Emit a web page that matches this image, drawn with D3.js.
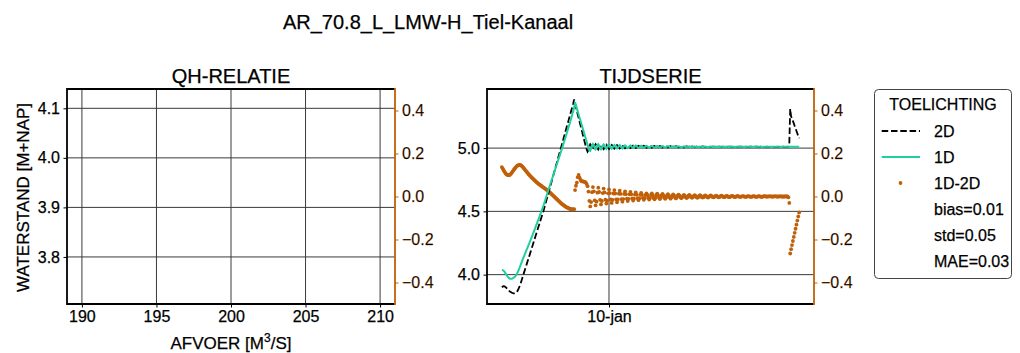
<!DOCTYPE html>
<html><head><meta charset="utf-8">
<script src="https://cdn.jsdelivr.net/npm/d3@7"></script>
<style>
body{margin:0;background:#fff;}
svg{display:block;}
text{font-family:"Liberation Sans",Arial,sans-serif;fill:#000;stroke:#000;stroke-width:0.25px;}
</style></head><body>
<svg id="c" width="1020" height="353"></svg>
<script>
// ---------------- DATA ----------------
const chartTitle = "AR_70.8_L_LMW-H_Tiel-Kanaal";
const qhTitle = "QH-RELATIE";
const tsTitle = "TIJDSERIE";
const qhXTicks = [190, 195, 200, 205, 210];
const qhYTicks = [3.8, 3.9, 4.0, 4.1];
const diffTicks = [-0.4, -0.2, 0.0, 0.2, 0.4];
const tsYTicks = [4.0, 4.5, 5.0];
const tsXTicks = ["2024-01-10"];
const tsStart = "2024-01-05 00:00";   // hourly values
const legendTitle = "TOELICHTING";
const legendNames = ["2D", "1D", "1D-2D"];
const legendStats = ["bias=0.01", "std=0.05", "MAE=0.03"];

const series2D = [
 3.900,3.906,3.909,3.908,3.903,3.896,3.888,3.880,3.873,3.867,3.862,3.858,3.855,3.853,3.852,3.853,3.858,3.866,3.878,3.893,3.910,3.930,3.952,3.975,
 3.998,4.020,4.042,4.064,4.087,4.109,4.132,4.154,4.176,4.199,4.221,4.244,4.266,4.288,4.311,4.333,4.356,4.378,4.400,4.423,4.445,4.468,4.490,4.513,
 4.538,4.564,4.589,4.615,4.640,4.666,4.691,4.717,4.742,4.768,4.793,4.819,4.844,4.870,4.895,4.921,4.946,4.972,4.997,5.023,5.048,5.074,5.099,5.125,
 5.150,5.176,5.201,5.227,5.252,5.278,5.303,5.329,5.354,5.385,5.350,5.322,5.294,5.266,5.238,5.210,5.182,5.154,5.126,5.098,5.070,5.042,5.014,4.990,
 4.972,4.985,5.015,5.030,5.021,4.999,4.987,
 5.000,5.020,5.031,5.020,5.000,4.989,
 5.001,5.019,5.029,5.019,5.001,4.991,
 5.002,5.018,5.027,5.018,5.002,4.993,
 5.003,5.017,5.025,5.017,5.003,4.995,
 5.003,5.016,5.024,5.017,5.004,4.997,
 5.004,5.016,5.022,5.016,5.004,4.998,
 5.005,5.015,5.021,5.016,5.005,5.000,
 5.005,5.015,5.020,5.015,5.006,5.001,
 5.006,5.014,5.019,5.015,5.006,5.002,
 5.006,5.014,5.018,5.014,5.007,5.003,
 5.007,5.014,5.017,5.014,5.007,5.003,
 5.007,5.014,5.017,5.013,5.007,5.004,
 5.007,5.013,5.016,5.013,5.007,5.004,
 5.008,5.013,5.016,5.013,5.007,5.005,
 5.008,5.013,5.015,5.013,5.008,5.005,
 5.008,5.013,5.015,5.012,5.008,5.006,
 5.008,5.012,5.014,5.012,5.008,5.006,
 5.008,5.012,5.014,5.012,5.008,5.007,
 5.008,5.012,5.013,5.012,5.008,5.007,
 5.008,5.012,5.013,5.012,5.008,5.007,
 5.008,5.012,5.013,5.012,5.008,5.008,
 5.009,5.012,5.013,5.011,5.008,5.008,
 5.009,5.011,5.012,5.011,5.009,5.008,
 5.009,5.011,5.012,5.011,5.009,5.008,
 5.009,5.011,5.012,5.011,5.009,5.009,
 5.009,5.011,5.012,5.011,5.009,5.009,
 5.009,5.011,5.012,5.011,5.009,5.009,
 5.009,5.011,5.011,5.011,5.010,5.009,
 5.009,5.011,5.011,5.011,5.010,5.009,
 5.009,5.011,5.011,5.011,5.010,5.009,
 5.009,5.011,5.011,5.011,5.010,5.009,
 5.009,5.011,5.011,5.011,5.010,5.009,
 5.009,5.010,5.011,5.010,5.010,5.010,
 5.009,5.010,5.011,5.010,5.010,5.010,
 5.009,5.010,5.011,5.010,5.010,5.010,
 5.010,5.010,5.011,5.010,5.010,5.010,
 5.010,5.010,5.014,5.040,
 5.310,5.250,5.235,5.215,5.195,5.175,5.155,5.135,5.115,5.095,5.078
];

const series1D = [
 4.037,4.036,4.031,4.023,4.012,4.000,3.989,3.979,3.972,3.968,3.967,3.968,3.971,3.975,3.980,3.986,3.996,4.008,4.023,4.040,4.057,4.076,4.095,4.114,
 4.132,4.149,4.166,4.183,4.201,4.218,4.236,4.253,4.271,4.289,4.307,4.326,4.344,4.362,4.381,4.399,4.419,4.437,4.456,4.476,4.495,4.515,4.534,4.554,
 4.576,4.599,4.621,4.643,4.665,4.687,4.709,4.731,4.752,4.774,4.795,4.817,4.838,4.860,4.881,4.903,4.924,4.946,4.967,4.989,5.011,5.034,5.056,5.079,
 5.101,5.125,5.148,5.172,5.195,5.220,5.244,5.269,5.294,5.321,5.362,5.338,5.314,5.290,5.266,5.242,5.218,5.194,5.170,5.146,5.122,5.098,5.074,5.050,
 5.026,5.002,4.982,4.978,4.999,5.021,5.033,
 5.020,5.000,4.989,5.000,5.020,5.031,
 5.019,5.001,4.991,5.001,5.019,5.029,
 5.018,5.002,4.993,5.002,5.018,5.027,
 5.017,5.003,4.995,5.003,5.017,5.025,
 5.017,5.004,4.997,5.003,5.016,5.024,
 5.016,5.004,4.998,5.004,5.016,5.022,
 5.016,5.005,5.000,5.005,5.015,5.021,
 5.015,5.006,5.001,5.005,5.015,5.020,
 5.015,5.006,5.002,5.006,5.014,5.019,
 5.014,5.007,5.003,5.006,5.014,5.018,
 5.014,5.007,5.003,5.007,5.014,5.017,
 5.013,5.007,5.004,5.007,5.014,5.017,
 5.013,5.007,5.004,5.007,5.013,5.016,
 5.013,5.007,5.005,5.008,5.013,5.016,
 5.013,5.008,5.005,5.008,5.013,5.015,
 5.012,5.008,5.006,5.008,5.013,5.015,
 5.012,5.008,5.006,5.008,5.012,5.014,
 5.011,5.008,5.007,5.009,5.012,5.014,
 5.011,5.009,5.007,5.009,5.011,5.013,
 5.011,5.009,5.007,5.009,5.011,5.013,
 5.011,5.009,5.008,5.009,5.011,5.013,
 5.011,5.009,5.008,5.009,5.011,5.013,
 5.011,5.009,5.008,5.009,5.011,5.012,
 5.011,5.009,5.008,5.009,5.011,5.012,
 5.011,5.009,5.009,5.009,5.011,5.012,
 5.010,5.009,5.009,5.010,5.011,5.012,
 5.010,5.010,5.009,5.010,5.010,5.012,
 5.010,5.010,5.009,5.010,5.011,5.011,
 5.010,5.010,5.009,5.010,5.011,5.011,
 5.010,5.010,5.009,5.010,5.011,5.011,
 5.010,5.010,5.009,5.010,5.011,5.011,
 5.010,5.010,5.009,5.010,5.011,5.011,
 5.010,5.010,5.010,5.010,5.011,5.011,
 5.010,5.010,5.010,5.010,5.011,5.011,
 5.010,5.010,5.010,5.010,5.011,5.011,
 5.010,5.010,5.010,5.010,5.010,5.011,
 5.010,5.010,5.010,5.010,
 5.010,5.010,5.010,5.010,5.010,5.010,5.010,5.010,5.010,5.010,5.010
];

const seriesDiff = [
 0.137,0.130,0.122,0.115,0.109,0.104,0.101,0.099,0.099,0.101,0.105,0.110,0.116,0.122,0.128,0.133,0.138,0.142,0.145,0.147,0.147,0.146,0.143,0.139,
 0.134,0.129,0.124,0.119,0.114,0.109,0.104,0.099,0.095,0.090,0.086,0.082,0.078,0.074,0.070,0.066,0.063,0.059,0.056,0.053,0.050,0.047,0.044,0.041,
 0.038,0.035,0.032,0.028,0.025,0.021,0.018,0.014,0.010,0.006,0.002,-0.002,-0.006,-0.010,-0.014,-0.018,-0.022,-0.026,-0.030,-0.034,-0.037,-0.040,-0.043,-0.046,
 -0.049,-0.051,-0.053,-0.055,-0.057,-0.058,-0.059,-0.060,-0.060,-0.059,0.030,0.050,0.065,0.090,0.100,0.088,0.078,0.072,0.070,0.070,0.069,0.068,0.065,0.058,
 0.048,
 0.023,-0.020,-0.046,-0.026,0.020,0.044,
 0.024,-0.018,-0.041,-0.024,0.018,0.041,
 0.021,-0.016,-0.037,-0.021,0.016,0.037,
 0.019,-0.015,-0.033,-0.019,0.015,0.033,
 0.016,-0.014,-0.030,-0.016,0.014,0.030,
 0.014,-0.013,-0.027,-0.014,0.013,0.027,
 0.012,-0.012,-0.024,-0.012,0.012,0.024,
 0.011,-0.010,-0.021,-0.011,0.010,0.021,
 0.010,-0.009,-0.019,-0.010,0.009,0.019,
 0.009,-0.008,-0.017,-0.009,0.008,0.017,
 0.008,-0.007,-0.015,-0.008,0.007,0.015,
 0.007,-0.007,-0.014,-0.007,0.007,0.014,
 0.006,-0.007,-0.013,-0.006,0.007,0.013,
 0.006,-0.006,-0.012,-0.006,0.006,0.012,
 0.005,-0.006,-0.011,-0.005,0.006,0.011,
 0.005,-0.005,-0.010,-0.005,0.005,0.010,
 0.004,-0.005,-0.009,-0.004,0.005,0.009,
 0.004,-0.004,-0.008,-0.004,0.004,0.008,
 0.003,-0.004,-0.007,-0.003,0.004,0.007,
 0.003,-0.003,-0.006,-0.003,0.003,0.006,
 0.003,-0.003,-0.006,-0.003,0.003,0.006,
 0.003,-0.003,-0.005,-0.003,0.003,0.005,
 0.002,-0.003,-0.005,-0.002,0.003,0.005,
 0.002,-0.002,-0.004,-0.002,0.002,0.004,
 0.002,-0.002,-0.004,-0.002,0.002,0.004,
 0.002,-0.002,-0.003,-0.002,0.002,0.003,
 0.001,-0.002,-0.003,-0.001,0.002,0.003,
 0.001,-0.001,-0.003,-0.001,0.001,0.003,
 0.001,-0.001,-0.002,-0.001,0.001,0.002,
 0.001,-0.001,-0.002,-0.001,0.001,0.002,
 0.001,-0.001,-0.002,-0.001,0.001,0.002,
 0.001,-0.001,-0.002,-0.001,0.001,0.002,
 0.001,-0.001,-0.002,-0.001,0.001,0.002,
 0.001,0.000,-0.001,0.000,0.001,0.001,
 0.001,0.000,-0.001,0.000,0.001,0.001,
 0.001,0.000,-0.001,0.000,0.001,0.001,
 0.000,0.000,-0.001,0.000,0.000,0.001,
 0.000,0.000,-0.004,-0.030,
 -0.265,-0.245,-0.226,-0.207,-0.188,-0.169,-0.150,-0.131,-0.112,-0.093,-0.074
];

// ---------------- DRAWING ----------------
const ORANGE = "#bf6008", TEAL = "#1fcf9f", GRID = "#3a3a3a";
const svg = d3.select("#c");
svg.append("rect").attr("width",1020).attr("height",353).attr("fill","#fff");

const pL = {x0:67, x1:395, y0:89, y1:304};
const pR = {x0:487, x1:814, y0:89, y1:304};

const xQ = d3.scaleLinear().domain([189,211]).range([pL.x0,pL.x1]);
const yQ = d3.scaleLinear().domain([3.705,4.139]).range([pL.y1,pL.y0]);
const yDL = d3.scaleLinear().domain([-0.5,0.5]).range([pL.y1,pL.y0]);

const parseT = d3.timeParse("%Y-%m-%d %H:%M");
const parseD = d3.timeParse("%Y-%m-%d");
const t0 = parseT(tsStart);
const times = series2D.map((_,i)=>d3.timeHour.offset(t0,i));
const tEnd = times[times.length-1];
const tPad = (tEnd - t0)*0.05;
const xT = d3.scaleTime().domain([new Date(+t0 - tPad), new Date(+tEnd + tPad)]).range([pR.x0,pR.x1]);
const yT = d3.scaleLinear().domain([3.768,5.467]).range([pR.y1,pR.y0]);
const yDR = d3.scaleLinear().domain([-0.5,0.5]).range([pR.y1,pR.y0]);

const nl = d3.timeFormatLocale({
  dateTime:"%a %e %B %Y %X", date:"%d-%m-%Y", time:"%H:%M:%S", periods:["AM","PM"],
  days:["zondag","maandag","dinsdag","woensdag","donderdag","vrijdag","zaterdag"],
  shortDays:["zo","ma","di","wo","do","vr","za"],
  months:["januari","februari","maart","april","mei","juni","juli","augustus","september","oktober","november","december"],
  shortMonths:["jan","feb","mrt","apr","mei","jun","jul","aug","sep","okt","nov","dec"]
});
const fmtDate = nl.format("%d-%b");
const f1 = d3.format(".1f");

function styleAxis(g, color){
  g.select(".domain").remove();
  g.selectAll(".tick line").attr("stroke", color).attr("stroke-width",1);
  g.selectAll(".tick text").attr("fill", color).style("stroke", color).style("font-size","16px")
    .style("font-family",'"Liberation Sans",Arial,sans-serif');
}

function panel(p, xs, ys, yd, xTickVals, yTickVals, xFmt){
  const g = svg.append("g");
  g.append("g").selectAll("line").data(yTickVals).join("line")
    .attr("x1",p.x0).attr("x2",p.x1).attr("y1",d=>ys(d)).attr("y2",d=>ys(d))
    .attr("stroke",GRID).attr("stroke-width",1);
  g.append("g").selectAll("line").data(xTickVals).join("line")
    .attr("y1",p.y0).attr("y2",p.y1).attr("x1",d=>xs(d)).attr("x2",d=>xs(d))
    .attr("stroke",GRID).attr("stroke-width",1);
  g.append("g").attr("transform",`translate(${p.x0},0)`)
    .call(d3.axisLeft(ys).tickValues(yTickVals).tickFormat(f1).tickSize(3.5).tickPadding(3.5))
    .call(a=>styleAxis(a,"#000"));
  g.append("g").attr("transform",`translate(0,${p.y1})`)
    .call(d3.axisBottom(xs).tickValues(xTickVals).tickFormat(xFmt).tickSize(3.5).tickPadding(3.5))
    .call(a=>styleAxis(a,"#000"));
  g.append("g").attr("transform",`translate(${p.x1},0)`)
    .call(d3.axisRight(yd).tickValues(diffTicks).tickFormat(f1).tickSize(3.5).tickPadding(3.5))
    .call(a=>styleAxis(a,ORANGE));
  return g;
}

function frame(p){
  svg.append("path").attr("d",`M${p.x1},${p.y0}H${p.x0}V${p.y1}H${p.x1}`)
    .attr("fill","none").attr("stroke","#000").attr("stroke-width",1.8);
  svg.append("line").attr("x1",p.x1).attr("x2",p.x1).attr("y1",p.y0-0.9).attr("y2",p.y1+0.9)
    .attr("stroke",ORANGE).attr("stroke-width",1.8);
}

// left panel (empty QH relation)
panel(pL, xQ, yQ, yDL, qhXTicks, qhYTicks, d3.format("d"));
frame(pL);

// right panel (time series)
const tickDates = tsXTicks.map(parseD);
panel(pR, xT, yT, yDR, tickDates, tsYTicks, fmtDate);

svg.append("clipPath").attr("id","clipR").append("rect")
  .attr("x",pR.x0).attr("y",pR.y0).attr("width",pR.x1-pR.x0).attr("height",pR.y1-pR.y0);
const plot = svg.append("g").attr("clip-path","url(#clipR)");

plot.append("g").selectAll("circle").data(seriesDiff).join("circle")
  .attr("cx",(d,i)=>xT(times[i])).attr("cy",d=>yDR(d)).attr("r",1.9).attr("fill",ORANGE);

const line = d3.line().x((d,i)=>xT(times[i])).y(d=>yT(d));
plot.append("path").datum(series2D).attr("d",line).attr("fill","none")
  .attr("stroke","#000").attr("stroke-width",1.8).attr("stroke-dasharray","6.5,2.8");
plot.append("path").datum(series1D).attr("d",line).attr("fill","none")
  .attr("stroke",TEAL).attr("stroke-width",2);
frame(pR);

// titles
svg.append("text").attr("x",428).attr("y",29).attr("text-anchor","middle")
  .style("font-size","20px").text(chartTitle);
svg.append("text").attr("x",(pL.x0+pL.x1)/2).attr("y",83).attr("text-anchor","middle")
  .style("font-size","20px").text(qhTitle);
svg.append("text").attr("x",(pR.x0+pR.x1)/2).attr("y",83).attr("text-anchor","middle")
  .style("font-size","20px").text(tsTitle);

// axis labels
const xl = svg.append("text").attr("x",(pL.x0+pL.x1)/2).attr("y",348.5).attr("text-anchor","middle")
  .style("font-size","17px");
xl.append("tspan").text("AFVOER [M");
xl.append("tspan").attr("dy",-7).style("font-size","12px").text("3");
xl.append("tspan").attr("dy",7).text("/S]");
svg.append("text").attr("transform","translate(28.5,197.5) rotate(-90)").attr("text-anchor","middle")
  .style("font-size","17px").text("WATERSTAND [M+NAP]");

// legend
const lg = svg.append("g");
lg.append("rect").attr("x",874.5).attr("y",89.5).attr("width",137).attr("height",189).attr("rx",4)
  .attr("fill","#fff").attr("stroke","#444").attr("stroke-width",1);
lg.append("text").attr("x",943).attr("y",110).attr("text-anchor","middle").style("font-size","16px").text(legendTitle);
const rows = legendNames.concat(legendStats);
rows.forEach((t,i)=>{
  const yb = 136.8 + i*26;
  lg.append("text").attr("x",934).attr("y",yb).style("font-size","16px").text(t);
  const yc = yb - 5.8;
  if(i===0) lg.append("line").attr("x1",881.7).attr("x2",920).attr("y1",yc).attr("y2",yc)
     .attr("stroke","#000").attr("stroke-width",1.8).attr("stroke-dasharray","6.5,2.8");
  if(i===1) lg.append("line").attr("x1",881.7).attr("x2",920).attr("y1",yc).attr("y2",yc)
     .attr("stroke",TEAL).attr("stroke-width",2);
  if(i===2) lg.append("circle").attr("cx",900.5).attr("cy",yc).attr("r",1.9).attr("fill",ORANGE);
});
</script>
</body></html>
